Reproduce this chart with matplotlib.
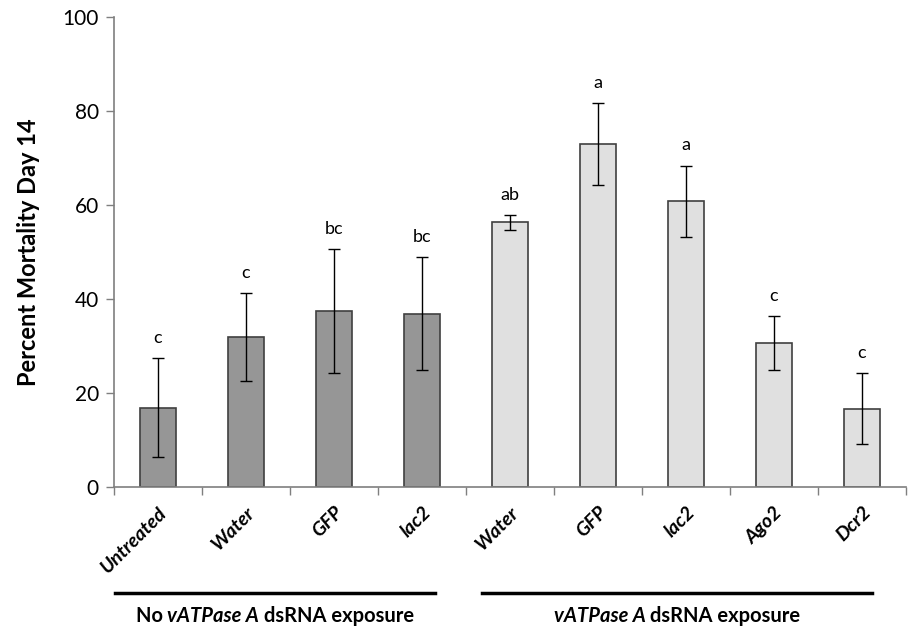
import matplotlib.pyplot as plt
import matplotlib.transforms as mtransforms

plt.rcParams['font.family'] = ['Lato', 'DejaVu Sans']

# Data
treatments = ['Untreated', 'Water', 'GFP', 'lac2', 'Water', 'GFP', 'lac2', 'Ago2', 'Dcr2']
mortality = [16.9, 31.9, 37.4, 36.9, 56.3, 73.0, 60.8, 30.6, 16.7]
errors = [10.5, 9.4, 13.2, 12.0, 1.6, 8.7, 7.6, 5.7, 7.6]
letters = ['c', 'c', 'bc', 'bc', 'ab', 'a', 'a', 'c', 'c']
groups = ['No', 'No', 'No', 'No', 'Yes', 'Yes', 'Yes', 'Yes', 'Yes']

colors = ['#969696' if g == 'No' else '#e0e0e0' for g in groups]
x = list(range(len(treatments)))

fig = plt.figure(figsize=(9.08, 6.28), dpi=100)
ax = fig.add_axes([0.1256, 0.2245, 0.872, 0.7484])

ax.bar(x, mortality, width=0.41, color=colors, edgecolor='#404040', linewidth=1.2, zorder=2)
ax.errorbar(x, mortality, yerr=errors, fmt='none', ecolor='black', elinewidth=1,
            capsize=4, capthick=1, zorder=3)

# significance letters above the error bars
for xi, m, e, lab in zip(x, mortality, errors, letters):
    ax.text(xi, m + e + 2.6, lab, ha='center', va='bottom', fontsize=13)

ax.set_xlim(-0.5, len(treatments) - 0.5)
ax.set_ylim(0, 100)
ax.set_yticks([0, 20, 40, 60, 80, 100])
ax.tick_params(axis='y', labelsize=15, length=6, width=1, color='#7f7f7f', pad=5)

# category labels at centres, tick marks at boundaries
ax.set_xticks(x)
ax.set_xticklabels(treatments, rotation=45, ha='right', rotation_mode='anchor',
                   fontsize=14, fontweight='bold', fontstyle='italic')
ax.tick_params(axis='x', which='major', length=0, pad=12)
ax.set_xticks([i - 0.5 for i in range(len(treatments) + 1)], minor=True)
ax.tick_params(axis='x', which='minor', length=6, width=1, color='#7f7f7f')

for side in ['top', 'right']:
    ax.spines[side].set_visible(False)
for side in ['left', 'bottom']:
    ax.spines[side].set_color('#7f7f7f')
    ax.spines[side].set_linewidth(1.2)

ax.set_ylabel('Percent Mortality Day 14', fontsize=17, fontweight='bold', labelpad=16)

# group lines and labels under the axis
trans = mtransforms.blended_transform_factory(ax.transData, ax.transAxes)
ax.plot([-0.49, 3.15], [-0.2255, -0.2255], color='black', linewidth=2.5,
        transform=trans, clip_on=False)
ax.plot([3.68, 8.12], [-0.2255, -0.2255], color='black', linewidth=2.5,
        transform=trans, clip_on=False)

fig.canvas.draw()
renderer = fig.canvas.get_renderer()


def mixed_label(center_x, y, parts):
    # draw text pieces one after another, then shift so the whole is centred
    texts = []
    for s, style in parts:
        t = ax.text(0, y, s, transform=trans, fontsize=14.5, fontweight='bold',
                    fontstyle=style, ha='left', va='center')
        texts.append(t)
    widths = [t.get_window_extent(renderer).width for t in texts]
    total = sum(widths)
    cx = trans.transform((center_x, y))[0]
    start = cx - total / 2
    inv = trans.inverted()
    for t, w in zip(texts, widths):
        t.set_x(inv.transform((start, 0))[0])
        start += w


mixed_label(1.33, -0.274, [('No ', 'normal'), ('vATPase A', 'italic'), (' dsRNA exposure', 'normal')])
mixed_label(5.9, -0.274, [('vATPase A', 'italic'), (' dsRNA exposure', 'normal')])

fig.savefig('out.png', dpi=100)
